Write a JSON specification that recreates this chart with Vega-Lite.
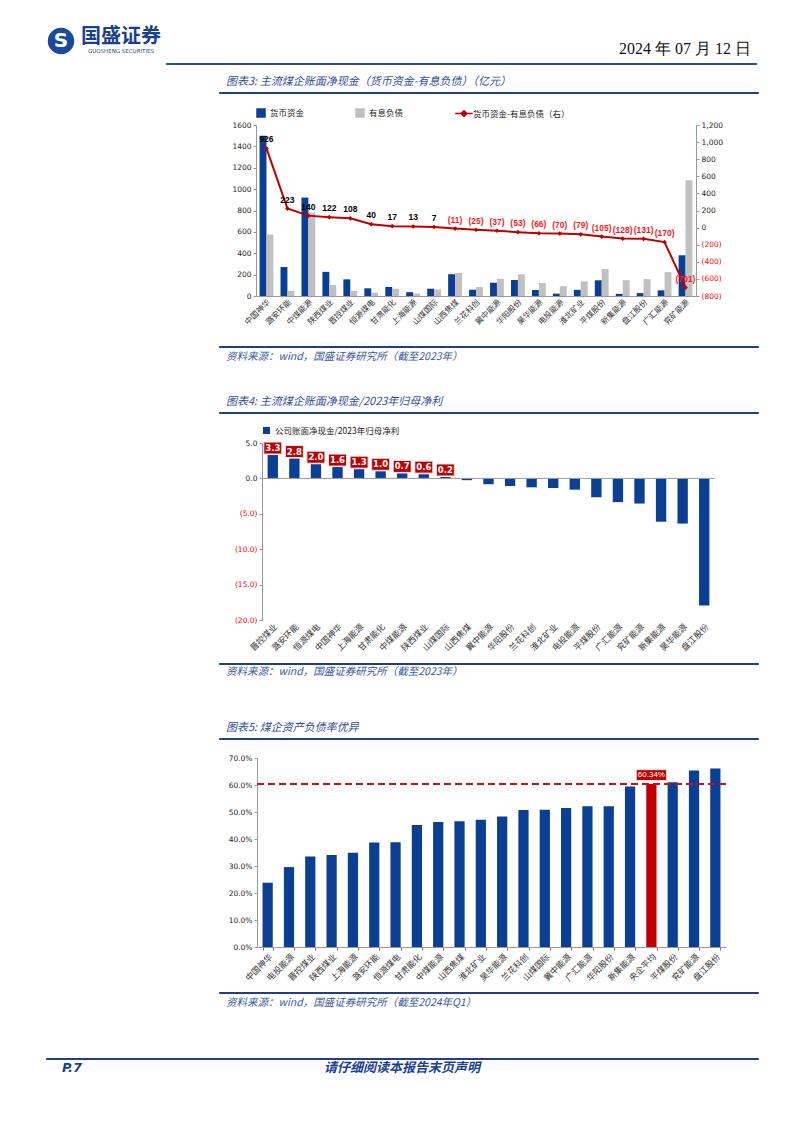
{
  "$schema": "https://vega.github.io/schema/vega-lite/v6.json",
  "padding": {"top": 26, "left": 0, "right": 0, "bottom": 0},
  "background": "white",
  "spacing": 0,
  "resolve": {"scale": {"color": "independent"}, "legend": {"color": "independent"}},
  "config": {
    "view": {"stroke": null},
    "font": "Noto Sans CJK SC",
    "concat": {"spacing": 0},
    "axis": {"labelFont": "DejaVu Sans", "labelFontSize": 7.5, "labelColor": "#222", "domainColor": "#999", "tickColor": "#999", "tickSize": 3, "labelPadding": 2, "grid": false, "labelOverlap": false},
    "axisX": {"labelFont": "Noto Sans CJK SC", "labelFontSize": 8.5, "labelAngle": -45, "ticks": false, "labelColor": "#333"},
    "legend": {"labelFont": "Noto Sans CJK SC", "labelFontSize": 8.5, "labelColor": "#222"},
    "title": {"font": "Noto Sans CJK SC", "fontWeight": "normal"}
  },
  "vconcat": [
    {
      "spacing": 0,
      "hconcat": [
        {"width": 45, "height": 1, "data": {"values": []}, "mark": "point"},
        {
          "width": 32, "height": 30,
          "data": {"values": [{"t": "S"}]},
          "layer": [
            {"mark": {"type": "point", "shape": "circle", "size": 700, "filled": true, "color": "#1b4a9c", "opacity": 1}, "encoding": {}},
            {"mark": {"type": "text", "fontSize": 20, "fontWeight": "bold", "color": "white", "font": "DejaVu Sans"}, "encoding": {"text": {"field": "t"}}}
          ]
        },
        {
          "width": 88, "height": 22,
          "data": {"values": [{"t": "国盛证券"}]},
          "mark": {"type": "text", "fontSize": 20, "fontWeight": "bold", "color": "#1b3f8f", "font": "Noto Sans CJK SC"},
          "encoding": {"text": {"field": "t"}},
          "title": {"text": "GUOSHENG SECURITIES", "orient": "bottom", "fontSize": 5.5, "color": "#1b3f8f", "offset": 1, "font": "DejaVu Sans", "anchor": "middle"}
        },
        {
          "spacing": 0,
          "vconcat": [
            {"width": 1, "height": 14, "data": {"values": []}, "mark": "point"},
            {
              "width": 590, "height": 1,
              "data": {"values": []}, "mark": "point",
              "view": {"stroke": "#2a4d96", "fill": "#2a4d96", "strokeWidth": 1},
              "title": {"text": "2024 年 07 月 12 日", "orient": "top", "anchor": "end", "fontSize": 16, "font": "Liberation Sans Narrow", "color": "#111", "offset": 6, "dx": -5}
            }
          ]
        }
      ]
    },
    {"width": 1, "height": 10, "data": {"values": []}, "mark": "point"},
    {
      "spacing": 0,
      "hconcat": [
        {"width": 218, "height": 1, "data": {"values": []}, "mark": "point"},
        {
          "width": 539, "height": 1, "data": {"values": []}, "mark": "point",
          "view": {"stroke": "#1f3d8a", "fill": "#1f3d8a", "strokeWidth": 1},
          "title": {"text": "图表3: 主流煤企账面净现金（货币资金-有息负债）（亿元）", "orient": "top", "anchor": "start", "dx": 7, "offset": 5, "fontSize": 11, "fontStyle": "italic", "color": "#2f4f9a"}
        }
      ]
    },
    {"width": 1, "height": 14, "data": {"values": []}, "mark": "point"},
    {
      "spacing": 0,
      "resolve": {"scale": {"color": "independent"}, "legend": {"color": "independent"}},
      "hconcat": [
        {"width": 231, "height": 1, "data": {"values": []}, "mark": "point"},
        {
          "width": 440, "height": 171,
          "data": {"values": [
            {"name": "中国神华", "货币资金": 1500, "有息负债": 575, "net": 926},
            {"name": "潞安环能", "货币资金": 271, "有息负债": 48, "net": 223},
            {"name": "中煤能源", "货币资金": 921, "有息负债": 781, "net": 140},
            {"name": "陕西煤业", "货币资金": 226, "有息负债": 104, "net": 122},
            {"name": "晋控煤业", "货币资金": 156, "有息负债": 48, "net": 108},
            {"name": "恒源煤电", "货币资金": 72, "有息负债": 32, "net": 40},
            {"name": "甘肃能化", "货币资金": 85, "有息负债": 68, "net": 17},
            {"name": "上海能源", "货币资金": 36, "有息负债": 23, "net": 13},
            {"name": "山煤国际", "货币资金": 68, "有息负债": 61, "net": 7},
            {"name": "山西焦煤", "货币资金": 204, "有息负债": 215, "net": -11},
            {"name": "兰花科创", "货币资金": 59, "有息负债": 84, "net": -25},
            {"name": "冀中能源", "货币资金": 124, "有息负债": 161, "net": -37},
            {"name": "华阳股份", "货币资金": 150, "有息负债": 203, "net": -53},
            {"name": "昊华能源", "货币资金": 56, "有息负债": 122, "net": -66},
            {"name": "电投能源", "货币资金": 22, "有息负债": 92, "net": -70},
            {"name": "淮北矿业", "货币资金": 58, "有息负债": 137, "net": -79},
            {"name": "平煤股份", "货币资金": 147, "有息负债": 252, "net": -105},
            {"name": "新集能源", "货币资金": 20, "有息负债": 148, "net": -128},
            {"name": "盘江股份", "货币资金": 27, "有息负债": 158, "net": -131},
            {"name": "广汇能源", "货币资金": 53, "有息负债": 223, "net": -170},
            {"name": "兖矿能源", "货币资金": 381, "有息负债": 1082, "net": -701}
          ]},
          "layer": [
            {
              "transform": [{"fold": ["货币资金", "有息负债"], "as": ["key", "value"]}],
              "mark": {"type": "bar"},
              "encoding": {
                "x": {"field": "name", "type": "nominal", "sort": null, "title": null, "scale": {"paddingInner": 0.34, "paddingOuter": 0.17}, "axis": {"labelFontSize": 8}},
                "xOffset": {"field": "key", "sort": ["货币资金", "有息负债"]},
                "y": {"field": "value", "type": "quantitative", "title": null, "scale": {"domain": [0, 1600]}, "axis": {"values": [0, 200, 400, 600, 800, 1000, 1200, 1400, 1600], "format": "d"}},
                "color": {
                  "field": "key", "type": "nominal",
                  "scale": {"domain": ["货币资金", "有息负债", "货币资金-有息负债（右）"], "range": ["#0a3f94", "#c0c0c0", "#c00000"]},
                  "legend": {
                    "orient": "top", "direction": "horizontal", "title": null, "offset": 5, "columnPadding": 48, "symbolSize": 64,
                    "encode": {"symbols": {"update": {
                      "shape": {"signal": "datum.value === '货币资金-有息负债（右）' ? 'M-2.2,0H2.2M0,-0.7L0.7,0L0,0.7L-0.7,0Z' : 'square'"},
                      "stroke": {"scale": "color", "field": "value"},
                      "strokeWidth": {"value": 1.5}
                    }}}
                  }
                }
              }
            },
            {
              "encoding": {
                "x": {"field": "name", "type": "nominal", "sort": null, "title": null},
                "y": {"field": "net", "type": "quantitative", "title": null, "scale": {"domain": [-800, 1200]}, "axis": {"orient": "right", "values": [-800, -600, -400, -200, 0, 200, 400, 600, 800, 1000, 1200], "format": "(,d", "labelColor": {"condition": {"test": "datum.value < 0", "value": "#ff0000"}, "value": "#222"}}}
              },
              "layer": [
                {
                  "mark": {"type": "line", "strokeWidth": 2, "point": {"shape": "diamond", "size": 22, "filled": true, "color": "#c00000"}},
                  "encoding": {"color": {"datum": "货币资金-有息负债（右）"}}
                },
                {
                  "mark": {"type": "text", "dy": -9, "fontWeight": "bold", "fontSize": 8.5, "font": "Liberation Sans"},
                  "encoding": {
                    "text": {"field": "net", "format": "(d"},
                    "color": {"condition": {"test": "datum.net < 0", "value": "#ff1a1a"}, "value": "#000"}
                  }
                }
              ]
            }
          ],
          "resolve": {"scale": {"y": "independent"}}
        }
      ]
    },
    {"width": 1, "height": 18, "data": {"values": []}, "mark": "point"},
    {
      "spacing": 0,
      "hconcat": [
        {"width": 218, "height": 1, "data": {"values": []}, "mark": "point"},
        {
          "width": 539, "height": 1, "data": {"values": []}, "mark": "point",
          "view": {"stroke": "#1f3d8a", "fill": "#1f3d8a", "strokeWidth": 1},
          "title": {"text": "资料来源：wind，国盛证券研究所（截至2023年）", "orient": "bottom", "anchor": "start", "dx": 7, "offset": 5, "fontSize": 10.5, "fontStyle": "italic", "color": "#3a5aa0"}
        }
      ]
    },
    {"width": 1, "height": 32, "data": {"values": []}, "mark": "point"},
    {
      "spacing": 0,
      "hconcat": [
        {"width": 218, "height": 1, "data": {"values": []}, "mark": "point"},
        {
          "width": 539, "height": 1, "data": {"values": []}, "mark": "point",
          "view": {"stroke": "#1f3d8a", "fill": "#1f3d8a", "strokeWidth": 1},
          "title": {"text": "图表4: 主流煤企账面净现金/2023年归母净利", "orient": "top", "anchor": "start", "dx": 7, "offset": 5, "fontSize": 11, "fontStyle": "italic", "color": "#2f4f9a"}
        }
      ]
    },
    {"width": 1, "height": 12, "data": {"values": []}, "mark": "point"},
    {
      "spacing": 0,
      "resolve": {"scale": {"color": "independent"}, "legend": {"color": "independent"}},
      "hconcat": [
        {"width": 234, "height": 1, "data": {"values": []}, "mark": "point"},
        {
          "width": 453, "height": 177,
          "data": {"values": [
            {"name": "晋控煤业", "ratio": 3.3},
            {"name": "潞安环能", "ratio": 2.8},
            {"name": "恒源煤电", "ratio": 2.0},
            {"name": "中国神华", "ratio": 1.6},
            {"name": "上海能源", "ratio": 1.3},
            {"name": "甘肃能化", "ratio": 1.0},
            {"name": "中煤能源", "ratio": 0.7},
            {"name": "陕西煤业", "ratio": 0.6},
            {"name": "山煤国际", "ratio": 0.2},
            {"name": "山西焦煤", "ratio": -0.25},
            {"name": "冀中能源", "ratio": -0.84},
            {"name": "华阳股份", "ratio": -1.07},
            {"name": "兰花科创", "ratio": -1.26},
            {"name": "淮北矿业", "ratio": -1.36},
            {"name": "电投能源", "ratio": -1.59},
            {"name": "平煤股份", "ratio": -2.66},
            {"name": "广汇能源", "ratio": -3.35},
            {"name": "兖矿能源", "ratio": -3.55},
            {"name": "新集能源", "ratio": -6.12},
            {"name": "昊华能源", "ratio": -6.38},
            {"name": "盘江股份", "ratio": -17.95}
          ]},
          "layer": [
            {
              "mark": {"type": "bar"},
              "encoding": {
                "x": {"field": "name", "type": "nominal", "sort": null, "title": null, "scale": {"paddingInner": 0.52, "paddingOuter": 0.26}, "axis": {"domain": false}},
                "y": {"field": "ratio", "type": "quantitative", "title": null, "scale": {"domain": [-20, 5]}, "axis": {"values": [5, 0, -5, -10, -15, -20], "format": "(.1f", "labelColor": {"condition": {"test": "datum.value < 0", "value": "#ff0000"}, "value": "#222"}}},
                "color": {"datum": "公司账面净现金/2023年归母净利", "scale": {"range": ["#0a3f94"]}, "legend": {"orient": "top", "title": null, "offset": 8.5, "symbolType": "square", "symbolSize": 50}}
              }
            },
            {
              "data": {"values": [{}]},
              "mark": {"type": "rule", "color": "#999", "strokeWidth": 1},
              "encoding": {"y": {"datum": 0, "type": "quantitative", "title": null, "scale": {"domain": [-20, 5]}, "axis": {"values": [5, 0, -5, -10, -15, -20], "format": "(.1f", "labelColor": {"condition": {"test": "datum.value < 0", "value": "#ff0000"}, "value": "#222"}}}}
            },
            {
              "transform": [{"filter": "datum.ratio > 0"}],
              "mark": {"type": "point", "shape": "M-1.5,-1H1.5V1H-1.5Z", "size": 144, "filled": true, "fill": "#c00000", "stroke": "#e8e8e8", "strokeWidth": 1, "opacity": 1, "yOffset": -7},
              "encoding": {
                "x": {"field": "name", "type": "nominal", "sort": null, "title": null, "axis": {"domain": false}},
                "y": {"field": "ratio", "type": "quantitative", "title": null, "scale": {"domain": [-20, 5]}, "axis": {"values": [5, 0, -5, -10, -15, -20], "format": "(.1f", "labelColor": {"condition": {"test": "datum.value < 0", "value": "#ff0000"}, "value": "#222"}}}
              }
            },
            {
              "transform": [{"filter": "datum.ratio > 0"}],
              "mark": {"type": "text", "color": "white", "fontWeight": "bold", "fontSize": 8.5, "font": "DejaVu Sans", "dy": -7},
              "encoding": {
                "x": {"field": "name", "type": "nominal", "sort": null, "title": null, "axis": {"domain": false}},
                "y": {"field": "ratio", "type": "quantitative", "title": null, "scale": {"domain": [-20, 5]}, "axis": {"values": [5, 0, -5, -10, -15, -20], "format": "(.1f", "labelColor": {"condition": {"test": "datum.value < 0", "value": "#ff0000"}, "value": "#222"}}},
                "text": {"field": "ratio", "format": ".1f"}
              }
            }
          ]
        }
      ]
    },
    {"width": 1, "height": 9, "data": {"values": []}, "mark": "point"},
    {
      "spacing": 0,
      "hconcat": [
        {"width": 218, "height": 1, "data": {"values": []}, "mark": "point"},
        {
          "width": 539, "height": 1, "data": {"values": []}, "mark": "point",
          "view": {"stroke": "#1f3d8a", "fill": "#1f3d8a", "strokeWidth": 1},
          "title": {"text": "资料来源：wind，国盛证券研究所（截至2023年）", "orient": "bottom", "anchor": "start", "dx": 7, "offset": 3, "fontSize": 10.5, "fontStyle": "italic", "color": "#3a5aa0"}
        }
      ]
    },
    {"width": 1, "height": 43, "data": {"values": []}, "mark": "point"},
    {
      "spacing": 0,
      "hconcat": [
        {"width": 218, "height": 1, "data": {"values": []}, "mark": "point"},
        {
          "width": 539, "height": 1, "data": {"values": []}, "mark": "point",
          "view": {"stroke": "#1f3d8a", "fill": "#1f3d8a", "strokeWidth": 1},
          "title": {"text": "图表5: 煤企资产负债率优异", "orient": "top", "anchor": "start", "dx": 7, "offset": 5, "fontSize": 11, "fontStyle": "italic", "color": "#2f4f9a"}
        }
      ]
    },
    {"width": 1, "height": 14, "data": {"values": []}, "mark": "point"},
    {
      "spacing": 0,
      "hconcat": [
        {"width": 228, "height": 1, "data": {"values": []}, "mark": "point"},
        {
          "width": 469, "height": 189,
          "data": {"values": [
            {"name": "中国神华", "rate": 0.238},
            {"name": "电投能源", "rate": 0.296},
            {"name": "晋控煤业", "rate": 0.335},
            {"name": "陕西煤业", "rate": 0.341},
            {"name": "上海能源", "rate": 0.349},
            {"name": "潞安环能", "rate": 0.387},
            {"name": "恒源煤电", "rate": 0.388},
            {"name": "甘肃能化", "rate": 0.452},
            {"name": "中煤能源", "rate": 0.463},
            {"name": "山西焦煤", "rate": 0.466},
            {"name": "淮北矿业", "rate": 0.471},
            {"name": "昊华能源", "rate": 0.483},
            {"name": "兰花科创", "rate": 0.507},
            {"name": "山煤国际", "rate": 0.508},
            {"name": "冀中能源", "rate": 0.515},
            {"name": "广汇能源", "rate": 0.521},
            {"name": "华阳股份", "rate": 0.521},
            {"name": "新集能源", "rate": 0.594},
            {"name": "央企平均", "rate": 0.6034},
            {"name": "平煤股份", "rate": 0.610},
            {"name": "兖矿能源", "rate": 0.654},
            {"name": "盘江股份", "rate": 0.661}
          ]},
          "layer": [
            {
              "mark": {"type": "bar"},
              "encoding": {
                "x": {"field": "name", "type": "nominal", "sort": null, "title": null, "scale": {"paddingInner": 0.52, "paddingOuter": 0.26}, "axis": {"ticks": true, "tickBand": "extent", "tickColor": "#d05030", "tickSize": 3}},
                "y": {"field": "rate", "type": "quantitative", "title": null, "scale": {"domain": [0, 0.7]}, "axis": {"values": [0, 0.1, 0.2, 0.3, 0.4, 0.5, 0.6, 0.7], "format": ".1%"}},
                "color": {"condition": {"test": "datum.name === '央企平均'", "value": "#c00000"}, "value": "#0a3f94"}
              }
            },
            {
              "data": {"values": [{}]},
              "mark": {"type": "rule", "color": "#d01010", "strokeWidth": 2, "strokeDash": [7, 4]},
              "encoding": {"y": {"datum": 0.6034, "type": "quantitative", "title": null, "scale": {"domain": [0, 0.7]}, "axis": {"values": [0, 0.1, 0.2, 0.3, 0.4, 0.5, 0.6, 0.7], "format": ".1%"}}}
            },
            {
              "transform": [{"filter": "datum.name === '央企平均'"}],
              "mark": {"type": "point", "shape": "M-1.4,-0.5H1.4V0.5H-1.4Z", "size": 470, "filled": true, "fill": "#c00000", "stroke": "#e8e8e8", "strokeWidth": 1, "opacity": 1, "yOffset": -9},
              "encoding": {
                "x": {"field": "name", "type": "nominal", "sort": null, "title": null, "axis": {"ticks": true, "tickBand": "extent", "tickColor": "#d05030", "tickSize": 3}},
                "y": {"field": "rate", "type": "quantitative", "title": null, "scale": {"domain": [0, 0.7]}, "axis": {"values": [0, 0.1, 0.2, 0.3, 0.4, 0.5, 0.6, 0.7], "format": ".1%"}}
              }
            },
            {
              "transform": [{"filter": "datum.name === '央企平均'"}],
              "mark": {"type": "text", "color": "white", "fontSize": 8, "font": "Liberation Sans", "dy": -9},
              "encoding": {
                "x": {"field": "name", "type": "nominal", "sort": null, "title": null, "axis": {"ticks": true, "tickBand": "extent", "tickColor": "#d05030", "tickSize": 3}},
                "y": {"field": "rate", "type": "quantitative", "title": null, "scale": {"domain": [0, 0.7]}, "axis": {"values": [0, 0.1, 0.2, 0.3, 0.4, 0.5, 0.6, 0.7], "format": ".1%"}},
                "text": {"field": "rate", "format": ".2%"}
              }
            }
          ]
        }
      ]
    },
    {"width": 1, "height": 8, "data": {"values": []}, "mark": "point"},
    {
      "spacing": 0,
      "hconcat": [
        {"width": 218, "height": 1, "data": {"values": []}, "mark": "point"},
        {
          "width": 539, "height": 1, "data": {"values": []}, "mark": "point",
          "view": {"stroke": "#1f3d8a", "fill": "#1f3d8a", "strokeWidth": 1},
          "title": {"text": "资料来源：wind，国盛证券研究所（截至2024年Q1）", "orient": "bottom", "anchor": "start", "dx": 7, "offset": 5, "fontSize": 10.5, "fontStyle": "italic", "color": "#3a5aa0"}
        }
      ]
    },
    {"width": 1, "height": 48, "data": {"values": []}, "mark": "point"},
    {
      "spacing": 0,
      "hconcat": [
        {"width": 45, "height": 1, "data": {"values": []}, "mark": "point"},
        {
          "spacing": 0,
          "vconcat": [
            {"width": 712, "height": 1, "data": {"values": []}, "mark": "point", "view": {"stroke": "#1f3d8a", "fill": "#1f3d8a", "strokeWidth": 1}},
            {
              "spacing": 0,
              "hconcat": [
                {"width": 14, "height": 1, "data": {"values": []}, "mark": "point"},
                {"width": 24, "height": 16, "data": {"values": [{"t": "P.7"}]}, "mark": {"type": "text", "fontSize": 13, "fontWeight": "bold", "fontStyle": "italic", "color": "#1b3f8f", "font": "DejaVu Sans"}, "encoding": {"text": {"field": "t"}}},
                {"width": 218, "height": 1, "data": {"values": []}, "mark": "point"},
                {"width": 200, "height": 16, "data": {"values": [{"t": "请仔细阅读本报告末页声明"}]}, "mark": {"type": "text", "fontSize": 13, "fontWeight": "bold", "fontStyle": "italic", "color": "#1b3f8f", "font": "Noto Sans CJK SC"}, "encoding": {"text": {"field": "t"}}}
              ]
            }
          ]
        }
      ]
    }
  ]
}
